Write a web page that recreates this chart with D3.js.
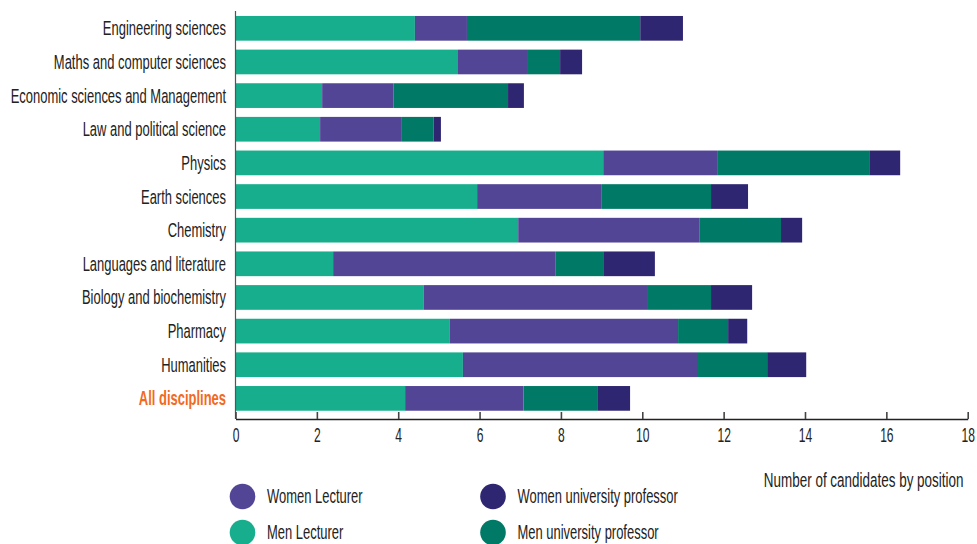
<!DOCTYPE html>
<html>
<head>
<meta charset="utf-8">
<script src="https://cdn.jsdelivr.net/npm/d3@7"></script>
<style>
  body { margin: 0; background: #fff; }
  svg { display: block; }
  text { font-family: "Liberation Sans", Arial, sans-serif; fill: #222; }
</style>
</head>
<body>
<script>
// data
var categories = ["Engineering sciences", "Maths and computer sciences", "Economic sciences and Management",
  "Law and political science", "Physics", "Earth sciences", "Chemistry", "Languages and literature",
  "Biology and biochemistry", "Pharmacy", "Humanities", "All disciplines"];
var menLecturer    = [4.41, 5.47, 2.13, 2.08, 9.04, 5.94, 6.95, 2.40, 4.63, 5.27, 5.59, 4.17];
var womenLecturer  = [1.28, 1.72, 1.75, 2.01, 2.80, 3.05, 4.45, 5.46, 5.51, 5.61, 5.78, 2.91];
var menProfessor   = [4.26, 0.79, 2.82, 0.78, 3.74, 2.70, 2.01, 1.18, 1.55, 1.23, 1.70, 1.83];
var womenProfessor = [1.05, 0.54, 0.39, 0.18, 0.76, 0.91, 0.52, 1.27, 1.01, 0.47, 0.96, 0.79];
var xTicks = [0, 2, 4, 6, 8, 10, 12, 14, 16, 18];
var seriesKeys = ["Men Lecturer", "Women Lecturer", "Men university professor", "Women university professor"];
var seriesColors = ["#16ae8c", "#534596", "#007a66", "#2f2672"];
var legendOrder = ["Women Lecturer", "Men Lecturer", "Women university professor", "Men university professor"];
var xTitle = "Number of candidates by position";

var width = 977, height = 544;
var axisY = 419;
var squeeze = 0.665; // the original font is a condensed one

var rows = categories.map(function(c, i) {
  return {cat: c, "Men Lecturer": menLecturer[i], "Women Lecturer": womenLecturer[i],
    "Men university professor": menProfessor[i], "Women university professor": womenProfessor[i]};
});

var color = d3.scaleOrdinal().domain(seriesKeys).range(seriesColors);

var x = d3.scaleLinear().domain([0, 18]).range([235.5, 967.7]);
var y = d3.scaleBand().domain(categories).range([11.5, 415.2])
  .paddingInner(0.266).paddingOuter(0.133);

var svg = d3.select("body").append("svg")
  .attr("width", width)
  .attr("height", height);

// stacked bars
var stacked = d3.stack().keys(seriesKeys)(rows);

svg.append("g")
  .selectAll("g")
  .data(stacked)
  .join("g")
    .attr("fill", function(d) { return color(d.key); })
  .selectAll("rect")
  .data(function(d) { return d; })
  .join("rect")
    .attr("x", function(d) { return x(d[0]); })
    .attr("y", function(d) { return y(d.data.cat); })
    .attr("width", function(d) { return x(d[1]) - x(d[0]); })
    .attr("height", y.bandwidth());

// left axis with category names
var yAxis = svg.append("g")
  .attr("transform", "translate(" + x(0) + ",0)")
  .call(d3.axisLeft(y).tickSize(0).tickPadding(9));
yAxis.select(".domain").remove();
yAxis.selectAll("text")
  .attr("x", null)
  .attr("dy", "0.36em")
  .attr("transform", "translate(-9.5,0) scale(" + squeeze + ",1)")
  .style("font-size", "19.5px")
  .style("fill", function(d) { return d == "All disciplines" ? "#f26a21" : "#222"; })
  .style("font-weight", function(d) { return d == "All disciplines" ? "bold" : "normal"; });

svg.append("line")
  .attr("x1", x(0)).attr("x2", x(0))
  .attr("y1", 11).attr("y2", axisY)
  .attr("stroke", "#555")
  .attr("stroke-width", 1.2);

// bottom axis, ticks pointing up
var xAxis = svg.append("g")
  .attr("transform", "translate(0," + axisY + ")")
  .call(d3.axisBottom(x).tickValues(xTicks).tickSizeInner(-7).tickSizeOuter(0).tickPadding(9));
xAxis.select(".domain").attr("stroke", "#222").attr("stroke-width", 1.4);
xAxis.selectAll(".tick line").attr("stroke", "#444").attr("stroke-width", 1.6);
xAxis.selectAll("text")
  .attr("transform", "scale(0.62,1)")
  .style("font-size", "19.5px")
  .style("fill", "#222");

svg.append("text")
  .attr("transform", "translate(963.5,486.5) scale(0.69,1)")
  .attr("text-anchor", "end")
  .style("font-size", "19.5px")
  .text(xTitle);

// legend, two columns
var legend = svg.append("g")
  .selectAll("g")
  .data(legendOrder)
  .join("g")
    .attr("transform", function(d, i) {
      return "translate(" + (Math.floor(i / 2) == 0 ? 242.5 : 493) + "," + (i % 2 == 0 ? 496.5 : 532.5) + ")";
    });

legend.append("circle")
  .attr("r", 12.8)
  .attr("fill", function(d) { return color(d); });

legend.append("text")
  .attr("transform", "translate(24.5,6) scale(" + squeeze + ",1)")
  .style("font-size", "19.5px")
  .text(function(d) { return d; });
</script>
</body>
</html>
